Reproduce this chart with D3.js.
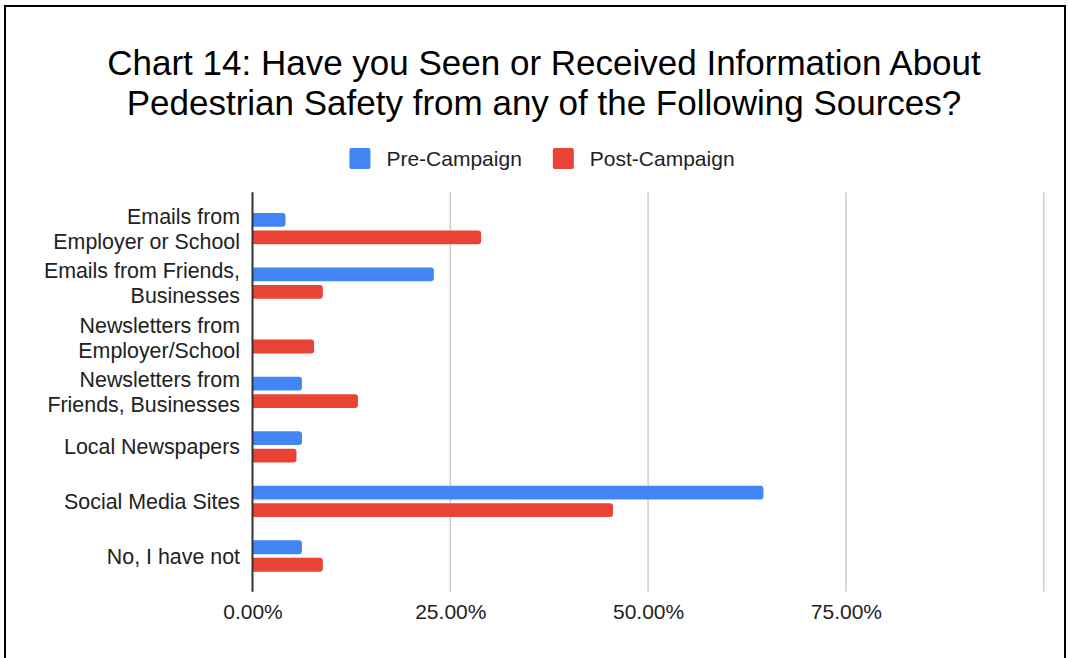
<!DOCTYPE html>
<html>
<head>
<meta charset="utf-8">
<script src="https://cdn.jsdelivr.net/npm/d3@7"></script>
<style>
  html, body { margin: 0; padding: 0; background: #fff; }
  svg { display: block; font-family: Arial, "Liberation Sans", sans-serif; }
</style>
</head>
<body>
<svg id="chart" width="1068" height="658"></svg>
<script>
// Survey sources and the share of respondents (percent) per campaign phase
const categories = [
  ["Emails from", "Employer or School"],
  ["Emails from Friends,", "Businesses"],
  ["Newsletters from", "Employer/School"],
  ["Newsletters from", "Friends, Businesses"],
  ["Local Newspapers"],
  ["Social Media Sites"],
  ["No, I have not"]
];
const seriesNames = ["Pre-Campaign", "Post-Campaign"];
const preCampaign  = [4.17, 22.92, 0, 6.25, 6.25, 64.58, 6.25];
const postCampaign = [28.89, 8.89, 7.78, 13.33, 5.56, 45.56, 8.89];
const tickValues = [0, 25, 50, 75, 100];
const tickLabels = ["0.00%", "25.00%", "50.00%", "75.00%", ""];
const colors = ["#4285F4", "#EA4335"];

const svg = d3.select("#chart");

// Outer frame
svg.append("rect")
  .attr("x", 5).attr("y", 6).attr("width", 1060).attr("height", 700)
  .attr("fill", "none").attr("stroke", "#000").attr("stroke-width", 2);

// Title
const title = svg.append("text")
  .attr("text-anchor", "middle")
  .attr("font-size", 35)
  .attr("fill", "#000");
title.append("tspan").attr("x", 544).attr("y", 75)
  .text("Chart 14: Have you Seen or Received Information About");
title.append("tspan").attr("x", 544).attr("y", 115)
  .text("Pedestrian Safety from any of the Following Sources?");

// Scales
const x = d3.scaleLinear().domain([0, 100]).range([252.5, 1043.7]);
const rows = categories.map((d, i) => i);
const y0 = d3.scaleBand().domain(rows).range([201.3, 583.3]).padding(0);
const groupH = 31.3;
const y1 = d3.scaleBand().domain(seriesNames)
  .range([-groupH / 2, groupH / 2]).paddingInner(0.21).paddingOuter(0);

const plotTop = 192.3, plotBottom = 591.7;

// Vertical gridlines
svg.append("g").selectAll("line")
  .data(tickValues.filter(v => v > 0))
  .join("line")
  .attr("x1", d => x(d)).attr("x2", d => x(d))
  .attr("y1", plotTop).attr("y2", plotBottom)
  .attr("stroke", "#cccccc").attr("stroke-width", 1.5);

// Tick labels along the bottom
const xAxis = d3.axisBottom(x)
  .tickValues(tickValues)
  .tickFormat((d, i) => tickLabels[i])
  .tickSize(0).tickPadding(0);
const gx = svg.append("g").attr("transform", `translate(0, ${plotBottom})`).call(xAxis);
gx.select(".domain").remove();
gx.selectAll("text")
  .attr("font-size", 21)
  .attr("fill", "#222")
  .attr("font-family", "Arial, 'Liberation Sans', sans-serif")
  .attr("dy", null)
  .attr("y", 27);

// Bars: square at the baseline, rounded on the value end
function barPath(x0, x1, yTop, h, r) {
  const w = x1 - x0;
  if (w <= 0) return "";
  r = Math.min(r, w / 2, h / 2);
  return `M${x0},${yTop}H${x1 - r}Q${x1},${yTop} ${x1},${yTop + r}` +
         `V${yTop + h - r}Q${x1},${yTop + h} ${x1 - r},${yTop + h}H${x0}Z`;
}

const barData = [];
rows.forEach(i => {
  barData.push({ row: i, s: 0, v: preCampaign[i] });
  barData.push({ row: i, s: 1, v: postCampaign[i] });
});

svg.append("g").selectAll("path")
  .data(barData)
  .join("path")
  .attr("d", d => barPath(x(0), x(d.v),
      y0(d.row) + y0.bandwidth() / 2 + y1(seriesNames[d.s]), y1.bandwidth(), 3))
  .attr("fill", d => colors[d.s]);

// Category axis line
svg.append("line")
  .attr("x1", x(0)).attr("x2", x(0))
  .attr("y1", plotTop).attr("y2", plotBottom)
  .attr("stroke", "#333").attr("stroke-width", 2);

// Category labels (multi-line, right aligned)
const lineH = 25;
const labels = svg.append("g").selectAll("text")
  .data(rows)
  .join("text")
  .attr("text-anchor", "end")
  .attr("font-size", 21.4)
  .attr("fill", "#222");
labels.each(function (i) {
  const lines = categories[i];
  const cy = y0(i) + y0.bandwidth() / 2;
  const first = cy - (lines.length - 1) * lineH / 2;
  d3.select(this).selectAll("tspan")
    .data(lines)
    .join("tspan")
    .attr("x", 240)
    .attr("y", (d, k) => first + k * lineH + 7.5)
    .text(d => d);
});

// Legend
const legend = svg.append("g");
const swatch = 21, gapText = 16, gapItem = 31;
const items = legend.selectAll("g")
  .data(seriesNames)
  .join("g");
items.append("rect")
  .attr("width", swatch).attr("height", swatch)
  .attr("rx", 2).attr("y", 148)
  .attr("fill", (d, i) => colors[i]);
items.append("text")
  .attr("font-size", 21).attr("fill", "#222")
  .attr("y", 165.5)
  .text(d => d);
let widths = [];
items.select("text").each(function () { widths.push(this.getComputedTextLength()); });
const totalW = widths.reduce((a, w) => a + swatch + gapText + w, 0) + gapItem * (widths.length - 1);
let cursor = 542 - totalW / 2;
items.each(function (d, i) {
  const g = d3.select(this);
  g.select("rect").attr("x", cursor);
  g.select("text").attr("x", cursor + swatch + gapText);
  cursor += swatch + gapText + widths[i] + gapItem;
});
</script>
</body>
</html>
